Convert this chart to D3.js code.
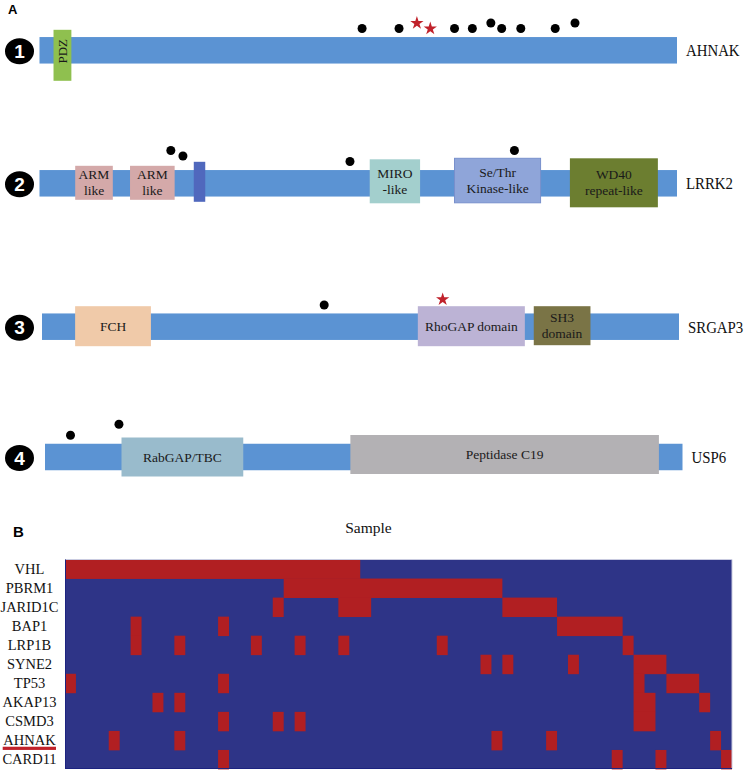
<!DOCTYPE html>
<html>
<head>
<meta charset="utf-8">
<script src="https://cdn.jsdelivr.net/npm/d3@7/dist/d3.min.js"></script>
<style>
  body { margin: 0; background: #fff; }
  svg { display: block; }
</style>
</head>
<body>
<div id="chart"></div>
<script>
// ---- panel A: proteins, domains and mutations (positions in % of the drawn protein bar)
var proteins = ["AHNAK", "LRRK2", "SRGAP3", "USP6"];

// protein, style key, label (\n = line break), start %, end %
var domains = [
  ["AHNAK", "pdz", "PDZ", 2.2, 5.0],
  ["LRRK2", "arm", "ARM\nlike", 5.6, 11.5],
  ["LRRK2", "arm", "ARM\nlike", 14.2, 21.2],
  ["LRRK2", "lrr", "", 24.2, 26.0],
  ["LRRK2", "miro", "MIRO\n-like", 51.8, 59.7],
  ["LRRK2", "kinase", "Se/Thr\nKinase-like", 65.1, 78.6],
  ["LRRK2", "wd40", "WD40\nrepeat-like", 83.2, 97.0],
  ["SRGAP3", "fch", "FCH", 5.2, 17.1],
  ["SRGAP3", "rhogap", "RhoGAP domain", 59.0, 75.8],
  ["SRGAP3", "sh3", "SH3\ndomain", 77.2, 86.1],
  ["USP6", "rabgap", "RabGAP/TBC", 12.0, 31.1],
  ["USP6", "peptidase", "Peptidase C19", 47.9, 96.3]
];

// protein, kind, position %, stack level above the bar
var mutations = [
  ["AHNAK", "dot", 50.6, 0],
  ["AHNAK", "dot", 56.4, 0],
  ["AHNAK", "star", 59.2, 1],
  ["AHNAK", "star", 61.3, 0],
  ["AHNAK", "dot", 65.1, 0],
  ["AHNAK", "dot", 67.9, 0],
  ["AHNAK", "dot", 70.8, 1],
  ["AHNAK", "dot", 72.5, 0],
  ["AHNAK", "dot", 75.5, 0],
  ["AHNAK", "dot", 80.9, 0],
  ["AHNAK", "dot", 84.0, 1],
  ["LRRK2", "dot", 20.6, 2],
  ["LRRK2", "dot", 22.5, 1],
  ["LRRK2", "dot", 48.7, 0],
  ["LRRK2", "dot", 74.5, 2],
  ["SRGAP3", "dot", 44.3, 0],
  ["SRGAP3", "star", 62.9, 1],
  ["USP6", "dot", 4.0, 0],
  ["USP6", "dot", 11.6, 2]
];

// ---- panel B: mutation matrix (sample indices that carry a mutation)
var genes = ["VHL", "PBRM1", "JARID1C", "BAP1", "LRP1B", "SYNE2", "TP53", "AKAP13", "CSMD3", "AHNAK", "CARD11"];
var sampleCount = 61;
var mutated = {
  VHL: [0,1,2,3,4,5,6,7,8,9,10,11,12,13,14,15,16,17,18,19,20,21,22,23,24,25,26],
  PBRM1: [20,21,22,23,24,25,26,27,28,29,30,31,32,33,34,35,36,37,38,39],
  JARID1C: [19,25,26,27,40,41,42,43,44],
  BAP1: [6,14,45,46,47,48,49,50],
  LRP1B: [6,10,17,21,25,34,51],
  SYNE2: [38,40,46,52,53,54],
  TP53: [0,14,52,55,56,57],
  AKAP13: [8,10,52,53,58],
  CSMD3: [14,19,21,52,53],
  AHNAK: [4,10,39,44,59],
  CARD11: [14,50,54,60]
};

// ---- styles / layout
var serif = "'Liberation Serif', 'Times New Roman', serif";
var sans = "'Liberation Sans', Arial, sans-serif";
var barColor = "#5b93d3";
var starColor = "#c0222b";
var cellBlue = "#2e3487";
var cellRed = "#b11f22";

var domainStyle = {
  pdz:       { fill: "#8fc04f", top: -20.5, bottom: 30.5 },
  arm:       { fill: "#d4a9a9", top: -17.5, bottom: 16.5 },
  lrr:       { fill: "#5068bd", top: -21.5, bottom: 18.5 },
  miro:      { fill: "#a3cfcd", top: -24,   bottom: 20 },
  kinase:    { fill: "#8fa5d9", top: -25,   bottom: 19.5, stroke: "#7890cc" },
  wd40:      { fill: "#6c7e30", top: -25,   bottom: 24 },
  fch:       { fill: "#f0caa9", top: -20.5, bottom: 19.5 },
  rhogap:    { fill: "#bcb3d5", top: -20.5, bottom: 19.5 },
  sh3:       { fill: "#7a7446", top: -20.5, bottom: 18.5 },
  rabgap:    { fill: "#99bbcc", top: -19.5, bottom: 19.5 },
  peptidase: { fill: "#b3b1b4", top: -22,   bottom: 17 }
};

var trackY = [50.3, 183.3, 326.7, 457];
var trackRange = [[39.5, 677], [39.5, 677], [42, 679], [45, 682.5]];
var barH = 26.5;

var svg = d3.select("#chart").append("svg")
    .attr("width", 745)
    .attr("height", 770);

// panel letters
svg.append("text")
    .attr("x", 8).attr("y", 14)
    .style("font-family", sans).style("font-weight", "bold").style("font-size", "13px")
    .text("A");
svg.append("text")
    .attr("x", 13).attr("y", 537)
    .style("font-family", sans).style("font-weight", "bold").style("font-size", "15px")
    .text("B");

proteins.forEach(function(p, i) {
  var cy = trackY[i];
  var x = d3.scaleLinear().domain([0, 100]).range(trackRange[i]);
  var g = svg.append("g").attr("class", "track");
  var barTop = cy - barH / 2;

  // number badge
  g.append("ellipse")
      .attr("cx", 19.5).attr("cy", cy + 1)
      .attr("rx", 14.5).attr("ry", 13)
      .attr("fill", "#000");
  g.append("text")
      .attr("x", 19.5).attr("y", cy + 7.5)
      .attr("text-anchor", "middle")
      .attr("fill", "#fff")
      .style("font-family", sans).style("font-weight", "bold").style("font-size", "19px")
      .text(i + 1);

  // protein bar
  g.append("rect")
      .attr("x", x(0)).attr("y", barTop)
      .attr("width", x(100) - x(0)).attr("height", barH)
      .attr("fill", barColor);

  // protein name (slightly condensed, as in the figure)
  var lx = x(100) + 9;
  g.append("text")
      .attr("transform", "translate(" + lx + "," + (cy + 6) + ") scale(0.9,1)")
      .style("font-family", serif).style("font-size", "16.5px")
      .attr("fill", "#111")
      .text(p);

  // domains
  var doms = domains.filter(function(d) { return d[0] == p; });
  doms.forEach(function(d) {
    var st = domainStyle[d[1]];
    var x0 = x(d[3]), x1 = x(d[4]);
    g.append("rect")
        .attr("x", x0).attr("y", cy + st.top)
        .attr("width", x1 - x0).attr("height", st.bottom - st.top)
        .attr("fill", st.fill)
        .attr("stroke", st.stroke || "none");
    if (!d[2]) return;
    var cx = (x0 + x1) / 2, my = cy + (st.top + st.bottom) / 2;
    if (d[1] == "pdz") {
      g.append("text")
          .attr("transform", "translate(" + (cx + 4.5) + "," + (cy + 1) + ") rotate(-90)")
          .attr("text-anchor", "middle")
          .style("font-family", serif).style("font-size", "13px")
          .attr("fill", "#1a1a1a")
          .text(d[2]);
      return;
    }
    var lines = d[2].split("\n");
    var t = g.append("text")
        .attr("text-anchor", "middle")
        .style("font-family", serif).style("font-size", "13.5px")
        .attr("fill", "#1a1a1a");
    if (lines.length == 1) {
      t.append("tspan").attr("x", cx).attr("y", my + 4.5).text(lines[0]);
    } else {
      t.append("tspan").attr("x", cx).attr("y", my - 3.7).text(lines[0]);
      t.append("tspan").attr("x", cx).attr("y", my + 12.3).text(lines[1]);
    }
  });

  // mutations
  var muts = mutations.filter(function(d) { return d[0] == p; });
  muts.forEach(function(d) {
    var my = barTop - 8.5 - d[3] * 5.5;
    if (d[1] == "dot") {
      g.append("circle")
          .attr("cx", x(d[2])).attr("cy", my)
          .attr("r", 4.5)
          .attr("fill", "#000");
    } else {
      g.append("path")
          .attr("transform", "translate(" + x(d[2]) + "," + my + ")")
          .attr("d", d3.symbol().type(d3.symbolStar).size(55)())
          .attr("fill", starColor);
    }
  });
});

// ---- panel B heatmap
var col = d3.scaleBand().domain(d3.range(sampleCount)).range([65, 732]);
var row = d3.scaleBand().domain(genes).range([559.5, 769]);

svg.append("text")
    .attr("x", 368.5).attr("y", 533)
    .attr("text-anchor", "middle")
    .style("font-family", serif).style("font-size", "15.5px")
    .attr("fill", "#111")
    .text("Sample");

var hm = svg.append("g").attr("class", "heatmap");

hm.append("rect")
    .attr("x", col.range()[0]).attr("y", row.range()[0])
    .attr("width", col.range()[1] - col.range()[0])
    .attr("height", row.range()[1] - row.range()[0])
    .attr("fill", cellBlue);

// group neighbouring mutated samples into runs so adjacent cells show no seams
function runs(idx) {
  var out = [];
  idx.forEach(function(s) {
    var last = out[out.length - 1];
    if (last && last[1] == s - 1) last[1] = s;
    else out.push([s, s]);
  });
  return out;
}

genes.forEach(function(gname) {
  hm.selectAll(".cell-" + gname)
      .data(runs(mutated[gname]))
    .enter().append("rect")
      .attr("class", "cell-" + gname)
      .attr("x", function(r) { return col(r[0]); })
      .attr("y", row(gname))
      .attr("width", function(r) { return col(r[1]) + col.bandwidth() - col(r[0]); })
      .attr("height", row.bandwidth() + 0.4)
      .attr("fill", cellRed);
});

// frame: light top/right, dark left/bottom
hm.append("line")
    .attr("x1", 65).attr("x2", 732).attr("y1", 559.5).attr("y2", 559.5)
    .attr("stroke", "#c9cbe0").attr("stroke-width", 1);
hm.append("line")
    .attr("x1", 732).attr("x2", 732).attr("y1", 559.5).attr("y2", 769)
    .attr("stroke", "#c9cbe0").attr("stroke-width", 1);
hm.append("line")
    .attr("x1", 65.5).attr("x2", 65.5).attr("y1", 559.5).attr("y2", 769)
    .attr("stroke", "#1c2380").attr("stroke-width", 1);
hm.append("line")
    .attr("x1", 65).attr("x2", 732).attr("y1", 768.5).attr("y2", 768.5)
    .attr("stroke", "#1c2380").attr("stroke-width", 1);

// gene labels
svg.selectAll(".gene")
    .data(genes)
  .enter().append("text")
    .attr("class", "gene")
    .attr("x", 29.5)
    .attr("y", function(d) { return row(d) + row.bandwidth() / 2 + 5; })
    .attr("text-anchor", "middle")
    .style("font-family", serif).style("font-size", "14.5px")
    .attr("fill", "#111")
    .text(function(d) { return d; });

// red underline marking AHNAK
svg.append("rect")
    .attr("x", 2.7).attr("y", row("AHNAK") + row.bandwidth() / 2 + 6.3)
    .attr("width", 53.3).attr("height", 3.2)
    .attr("fill", starColor);
</script>
</body>
</html>
